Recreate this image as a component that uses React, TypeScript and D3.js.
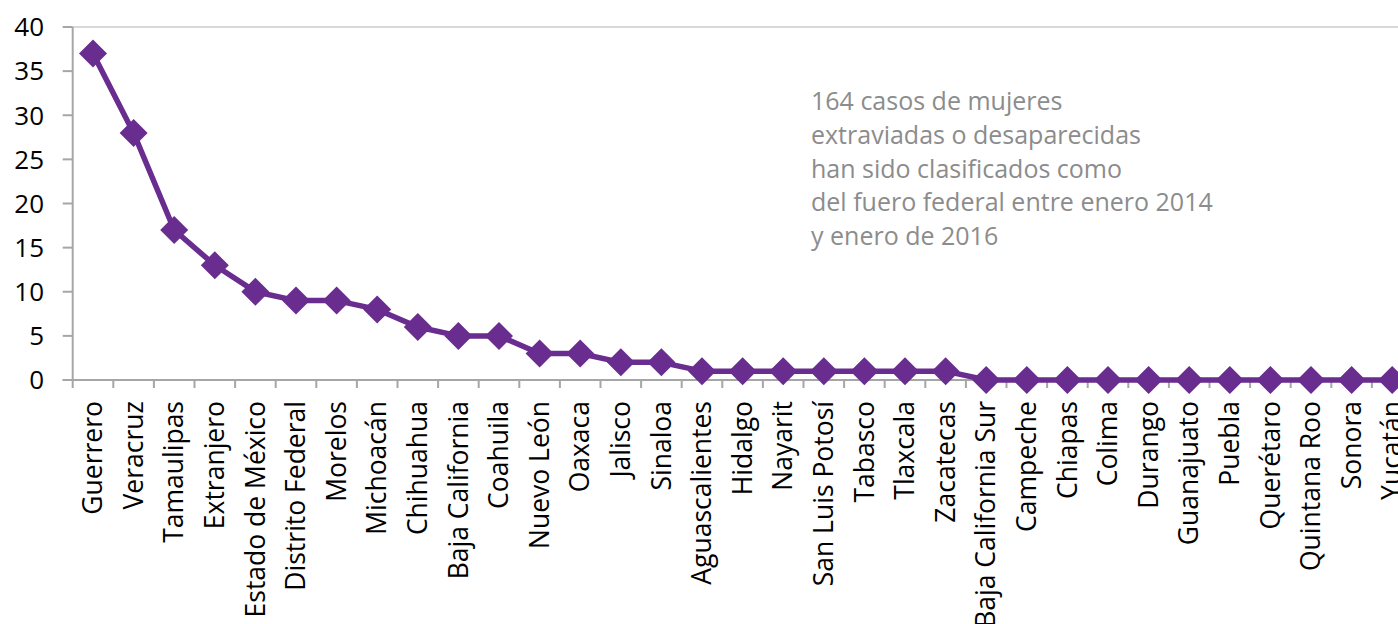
import React from "react";
import * as d3 from "d3";

const categories: string[] = [
  "Guerrero", "Veracruz", "Tamaulipas", "Extranjero", "Estado de México",
  "Distrito Federal", "Morelos", "Michoacán", "Chihuahua", "Baja California",
  "Coahuila", "Nuevo León", "Oaxaca", "Jalisco", "Sinaloa", "Aguascalientes",
  "Hidalgo", "Nayarit", "San Luis Potosí", "Tabasco", "Tlaxcala", "Zacatecas",
  "Baja California Sur", "Campeche", "Chiapas", "Colima", "Durango",
  "Guanajuato", "Puebla", "Querétaro", "Quintana Roo", "Sonora", "Yucatán",
];
const values: number[] = [
  37, 28, 17, 13, 10, 9, 9, 8, 6, 5, 5, 3, 3, 2, 2, 1, 1, 1, 1, 1, 1, 1,
  0, 0, 0, 0, 0, 0, 0, 0, 0, 0, 0,
];
const yTicks: number[] = [0, 5, 10, 15, 20, 25, 30, 35, 40];
const noteLines: string[] = [
  "164 casos de mujeres",
  "extraviadas o desaparecidas",
  "han sido clasificados como",
  "del fuero federal entre enero 2014",
  "y enero de 2016",
];

const W = 1398;
const H = 624;
const LEFT = 72.7;
const STEP = 40.6;
const TOP = 27;
const BOTTOM = 380;
const PURPLE = "#692C8F";
const AXIS = "#a6a6a6";
const FONT = "'Open Sans', 'Noto Sans', sans-serif";

export default function App() {
  const x = d3
    .scaleBand<string>()
    .domain(categories)
    .range([LEFT, LEFT + STEP * categories.length])
    .padding(0);
  const y = d3.scaleLinear().domain([0, 40]).range([BOTTOM, TOP]);
  const cx = (c: string) => (x(c) as number) + x.bandwidth() / 2;

  const data = categories.map((c, i) => ({ c, v: values[i] }));
  const line = d3
    .line<{ c: string; v: number }>()
    .x((d) => cx(d.c))
    .y((d) => y(d.v));

  const r = 14;
  const boundaries = categories.map((c) => (x(c) as number) + x.bandwidth());

  return (
    <div style={{ position: "absolute", left: 0, top: 0 }}>
      <svg width={W} height={H} style={{ display: "block", background: "#fff" }}>
        <line x1={LEFT} x2={W} y1={y(40)} y2={y(40)} stroke="#d9d9d9" strokeWidth={2} />
        <line x1={LEFT} x2={LEFT} y1={y(40)} y2={BOTTOM + 8} stroke={AXIS} strokeWidth={2} />
        {yTicks.map((t) => (
          <g key={t}>
            <line x1={LEFT - 10} x2={LEFT} y1={y(t)} y2={y(t)} stroke={AXIS} strokeWidth={2} />
            <text
              x={44}
              y={y(t)}
              dy="0.36em"
              textAnchor="end"
              fontFamily={FONT}
              fontSize={26}
              fill="#000"
            >
              {t}
            </text>
          </g>
        ))}
        <line x1={LEFT - 10} x2={W} y1={BOTTOM} y2={BOTTOM} stroke={AXIS} strokeWidth={2} />
        {boundaries.map((b, i) => (
          <line key={i} x1={b} x2={b} y1={BOTTOM} y2={BOTTOM + 8} stroke={AXIS} strokeWidth={2} />
        ))}
        {categories.map((c) => (
          <text
            key={c}
            transform={`translate(${cx(c)},${401}) rotate(-90)`}
            dy="0.35em"
            textAnchor="end"
            fontFamily={FONT}
            fontSize={26.5}
            fill="#000"
          >
            {c}
          </text>
        ))}
        <path d={line(data) || ""} fill="none" stroke={PURPLE} strokeWidth={5.5} strokeLinejoin="round" />
        {data.map((d) => {
          const px = cx(d.c);
          const py = y(d.v);
          return (
            <path
              key={d.c}
              d={`M${px},${py - r}L${px + r},${py}L${px},${py + r}L${px - r},${py}Z`}
              fill={PURPLE}
            />
          );
        })}
        <text fontFamily={FONT} fontSize={25} fill="#8c8c8c">
          {noteLines.map((l, i) => (
            <tspan key={i} x={811} y={110 + i * 33.8}>
              {l}
            </tspan>
          ))}
        </text>
      </svg>
    </div>
  );
}
